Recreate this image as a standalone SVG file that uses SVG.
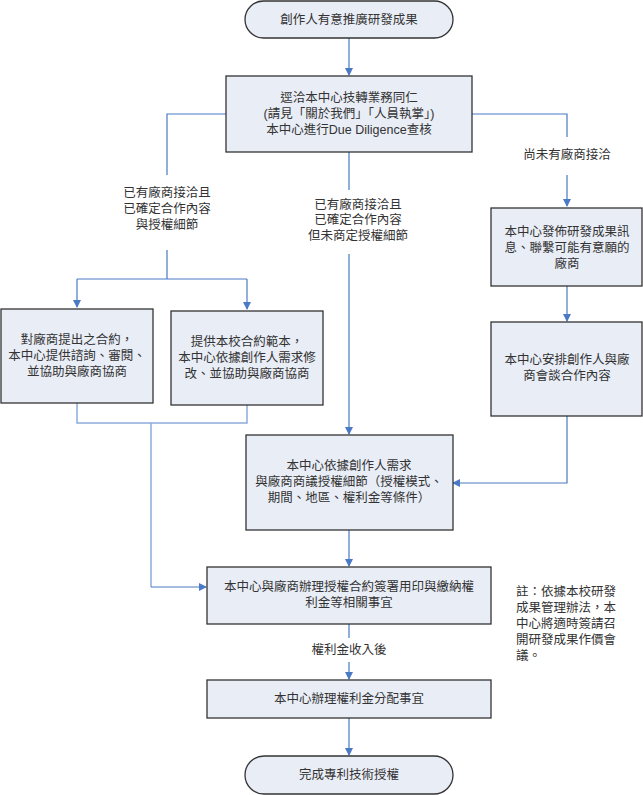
<svg xmlns="http://www.w3.org/2000/svg" width="643" height="795" viewBox="0 0 643 795">
<defs>
<marker id="ar" markerWidth="8" markerHeight="8" refX="7" refY="4" orient="auto" markerUnits="userSpaceOnUse"><path d="M0,0 L8,4 L0,8 Z" fill="#4a7ac4"/></marker>
<style>
.n{fill:#e9edf6;stroke:#333;stroke-width:1.3}
.c{fill:none;stroke:#4a7ac4;stroke-width:1.2}
.c2{fill:none;stroke:#8eaadb;stroke-width:1.5}
text{font-family:"Liberation Sans","Noto Sans CJK TC",sans-serif;font-size:12.5px;fill:#333;text-anchor:middle}
.l{text-anchor:start}
</style>
</defs>
<rect width="643" height="795" fill="#fff"/>
<g id="connectors">
<path class="c" d="M349,38 V75" marker-end="url(#ar)"/>
<path class="c" d="M226,114 H167 V175 M167,250 V279 M77,279 H247"/>
<path class="c" d="M77,279 V307" marker-end="url(#ar)"/>
<path class="c" d="M247,279 V309" marker-end="url(#ar)"/>
<path class="c2" d="M77,403 V423 H247 V405 M151,423 V587"/>
<path class="c" d="M151,587 H206" marker-end="url(#ar)"/>
<path class="c" d="M349,152 V190 M349,254 V434" marker-end="url(#ar)"/>
<path class="c" d="M472,114 H567 V137 M567,175 V206" marker-end="url(#ar)"/>
<path class="c" d="M567,286 V321" marker-end="url(#ar)"/>
<path class="c" d="M567,416 V483 H453" marker-end="url(#ar)"/>
<path class="c" d="M349,530 V566" marker-end="url(#ar)"/>
<path class="c" d="M349,624 V638 M349,662 V679" marker-end="url(#ar)"/>
<path class="c" d="M349,718 V755" marker-end="url(#ar)"/>
</g>
<g id="labels">
<text x="167" y="197">已有廠商接洽且</text>
<text x="167" y="213">已確定合作內容</text>
<text x="167" y="229">與授權細節</text>
<text x="358" y="209">已有廠商接洽且</text>
<text x="358" y="224">已確定合作內容</text>
<text x="358" y="240">但未商定授權細節</text>
<text x="567" y="159">尚未有廠商接洽</text>
<text x="349" y="654">權利金收入後</text>
<text class="l" x="516" y="596">註：依據本校研發</text>
<text class="l" x="516" y="612">成果管理辦法，本</text>
<text class="l" x="516" y="628">中心將適時簽請召</text>
<text class="l" x="516" y="644">開研發成果作價會</text>
<text class="l" x="516" y="660">議。</text>
</g>
<g id="start"><rect class="n" x="245" y="1" width="208" height="37" rx="18.5"/><text x="349" y="24">創作人有意推廣研發成果</text></g>
<g id="contact"><rect class="n" x="226" y="76" width="246" height="76"/>
<text x="349" y="102">逕洽本中心技轉業務同仁</text><text x="349" y="118">(請見「關於我們」「人員執掌」)</text><text x="349" y="134">本中心進行Due Diligence查核</text></g>
<g id="boxA"><rect class="n" x="1" y="309" width="152" height="94"/>
<text x="77" y="344">對廠商提出之合約，</text><text x="77" y="360">本中心提供諮詢、審閱、</text><text x="77" y="376">並協助與廠商協商</text></g>
<g id="boxB"><rect class="n" x="171" y="311" width="152" height="94"/>
<text x="247" y="346">提供本校合約範本，</text><text x="247" y="362">本中心依據創作人需求修</text><text x="247" y="378">改、並協助與廠商協商</text></g>
<g id="boxD"><rect class="n" x="491" y="208" width="151" height="78"/>
<text x="567" y="236">本中心發佈研發成果訊</text><text x="567" y="252">息、聯繫可能有意願的</text><text x="567" y="268">廠商</text></g>
<g id="boxE"><rect class="n" x="491" y="322" width="151" height="94"/>
<text x="567" y="364">本中心安排創作人與廠</text><text x="567" y="380">商會談合作內容</text></g>
<g id="boxC"><rect class="n" x="246" y="435" width="207" height="95"/>
<text x="349" y="470">本中心依據創作人需求</text><text x="349" y="486">與廠商商議授權細節（授權模式、</text><text x="349" y="502">期間、地區、權利金等條件）</text></g>
<g id="boxF"><rect class="n" x="207" y="567" width="284" height="57"/>
<text x="349" y="591">本中心與廠商辦理授權合約簽署用印與繳納權</text><text x="349" y="607">利金等相關事宜</text></g>
<g id="boxG"><rect class="n" x="207" y="680" width="284" height="38"/><text x="349" y="703">本中心辦理權利金分配事宜</text></g>
<g id="end"><rect class="n" x="245" y="756" width="208" height="38" rx="19"/><text x="349" y="779">完成專利技術授權</text></g>
</svg>
